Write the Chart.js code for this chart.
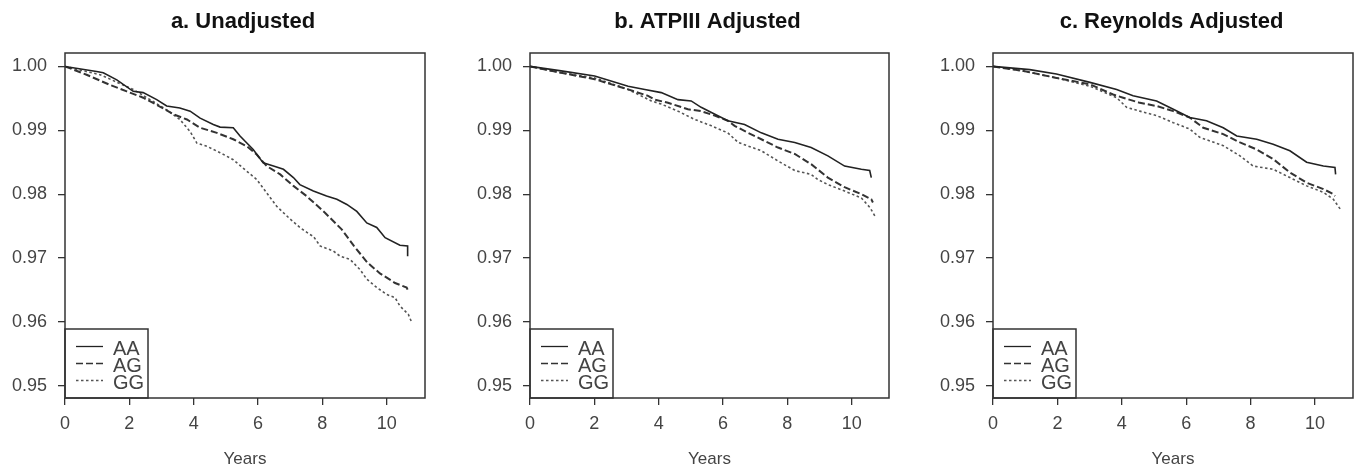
<!DOCTYPE html>
<html>
<head>
<meta charset="utf-8">
<script src="https://cdn.jsdelivr.net/npm/chart.js@4"></script>
<style>
  html, body { margin: 0; padding: 0; background: #fff; overflow: hidden; width: 1362px; height: 472px; }
  canvas { position: absolute; top: 0; }
</style>
</head>
<body>
<canvas id="panelA" width="486" height="472" style="left:0px"></canvas>
<canvas id="panelB" width="475" height="472" style="left:470px"></canvas>
<canvas id="panelC" width="473" height="472" style="left:935px"></canvas>
<script>
// survival curves, [years, survival]
const seriesNames = ['AA', 'AG', 'GG'];
const xTicks = [0, 2, 4, 6, 8, 10];
const yTicks = [0.95, 0.96, 0.97, 0.98, 0.99, 1.00];

const unadjAA = [[0,1.0],[0.98,0.9992],[1.19,0.9990],[1.61,0.9979],[2.12,0.9961],[2.43,0.9959],[2.85,0.9948],[3.16,0.9938],[3.57,0.9935],[3.89,0.9930],[4.20,0.9919],[4.61,0.9909],[4.82,0.9905],[5.23,0.9904],[5.44,0.9891],[5.85,0.9870],[6.16,0.9849],[6.48,0.9844],[6.79,0.9839],[7.10,0.9826],[7.30,0.9815],[7.72,0.9805],[8.13,0.9797],[8.45,0.9792],[8.76,0.9784],[9.07,0.9773],[9.38,0.9755],[9.69,0.9748],[9.95,0.9732],[10.41,0.9720],[10.65,0.9719],[10.65,0.9703]];
const unadjAG = [[0,1.0],[0.67,0.9987],[1.40,0.9971],[1.92,0.9961],[2.43,0.9951],[2.85,0.9940],[3.37,0.9925],[3.79,0.9917],[4.20,0.9904],[4.72,0.9896],[5.23,0.9886],[5.65,0.9875],[5.96,0.9862],[6.27,0.9844],[6.69,0.9831],[7.10,0.9813],[7.51,0.9797],[8.08,0.9771],[8.60,0.9745],[8.98,0.9719],[9.40,0.9693],[9.79,0.9676],[10.26,0.9661],[10.62,0.9654],[10.66,0.9649]];
const unadjGG = [[0,1.0],[1.09,0.9987],[2.12,0.9964],[2.74,0.9945],[3.16,0.9932],[3.57,0.9917],[3.89,0.9898],[4.10,0.9880],[4.41,0.9875],[4.82,0.9865],[5.23,0.9854],[5.65,0.9836],[5.96,0.9823],[6.27,0.9802],[6.58,0.9781],[7.00,0.9761],[7.30,0.9748],[7.61,0.9737],[7.72,0.9734],[7.93,0.9719],[8.34,0.9711],[8.55,0.9703],[8.86,0.9698],[9.17,0.9682],[9.38,0.9667],[9.69,0.9654],[10.0,0.9643],[10.26,0.9638],[10.41,0.9625],[10.67,0.9612],[10.78,0.9599]];

const atpAA = [[0,1.0],[0.97,0.9993],[2.01,0.9985],[3.05,0.9969],[3.57,0.9964],[4.08,0.9959],[4.60,0.9948],[5.01,0.9946],[5.32,0.9936],[5.64,0.9928],[6.15,0.9915],[6.67,0.9909],[7.19,0.9896],[7.71,0.9886],[8.23,0.9881],[8.74,0.9873],[9.26,0.9860],[9.78,0.9844],[10.30,0.9839],[10.56,0.9837],[10.61,0.9826]];
const atpAG = [[0,1.0],[0.97,0.9990],[2.01,0.9980],[3.05,0.9964],[3.67,0.9954],[3.88,0.9948],[4.29,0.9943],[4.91,0.9933],[5.32,0.9930],[5.74,0.9923],[6.15,0.9915],[6.36,0.9907],[6.78,0.9896],[7.19,0.9886],[7.71,0.9873],[8.23,0.9863],[8.74,0.9847],[9.26,0.9826],[9.78,0.9811],[10.30,0.9800],[10.61,0.9792],[10.66,0.9787]];
const atpGG = [[0,1.0],[0.97,0.9990],[2.01,0.9982],[3.05,0.9964],[3.77,0.9946],[4.08,0.9941],[4.60,0.9930],[5.12,0.9917],[5.64,0.9907],[6.15,0.9896],[6.47,0.9881],[7.19,0.9868],[7.71,0.9852],[8.23,0.9837],[8.74,0.9831],[8.95,0.9823],[9.26,0.9815],[9.78,0.9805],[10.30,0.9794],[10.57,0.9779],[10.72,0.9766]];

const reyAA = [[0,1.0],[1.14,0.9995],[1.97,0.9988],[3.01,0.9975],[3.84,0.9964],[4.35,0.9954],[5.08,0.9946],[5.60,0.9933],[6.11,0.9920],[6.63,0.9915],[7.15,0.9904],[7.57,0.9891],[8.19,0.9886],[8.70,0.9878],[9.22,0.9868],[9.74,0.9850],[10.26,0.9844],[10.62,0.9842],[10.64,0.9831]];
const reyAG = [[0,1.0],[0.93,0.9993],[1.97,0.9982],[3.01,0.9972],[3.73,0.9956],[4.04,0.9951],[4.56,0.9943],[5.08,0.9938],[5.60,0.9930],[6.11,0.9920],[6.53,0.9904],[7.15,0.9894],[7.67,0.9881],[8.19,0.9870],[8.70,0.9855],[9.22,0.9834],[9.74,0.9818],[10.26,0.9808],[10.57,0.9800],[10.62,0.9797]];
const reyGG = [[0,1.0],[0.93,0.9993],[1.97,0.9982],[3.01,0.9969],[3.84,0.9951],[4.15,0.9936],[4.56,0.9930],[5.08,0.9923],[5.60,0.9912],[6.11,0.9902],[6.42,0.9889],[7.15,0.9876],[7.67,0.9860],[8.08,0.9844],[8.70,0.9839],[9.22,0.9826],[9.74,0.9813],[10.26,0.9803],[10.57,0.9792],[10.78,0.9777]];

const frameColor = '#333';
const textColor = '#444';
const lineColors = ['#222', '#333', '#555'];
const lineWidths = [1.6, 2, 1.6];
const lineDashes = [[], [7, 3], [2.5, 2.5]];

Chart.defaults.font.family = '"Liberation Sans", Arial, sans-serif';

// box round the plot region, like R's box()
const frameBox = {
  id: 'frameBox',
  afterDraw(chart) {
    const {ctx, chartArea: a} = chart;
    ctx.save();
    ctx.strokeStyle = frameColor;
    ctx.lineWidth = 1.5;
    ctx.strokeRect(a.left, a.top, a.right - a.left, a.bottom - a.top);
    ctx.restore();
  }
};

// legend sits in the bottom left corner of the plot
const legendBox = {
  id: 'legendBox',
  afterDatasetsDraw(chart) {
    const {ctx, chartArea: {left, bottom}} = chart;
    const rows = [49, 32, 15];
    ctx.save();
    ctx.fillStyle = '#fff';
    ctx.fillRect(left, bottom - 69, 83, 69);
    ctx.strokeStyle = frameColor;
    ctx.lineWidth = 1.5;
    ctx.strokeRect(left, bottom - 69, 83, 69);
    chart.data.datasets.forEach((ds, i) => {
      const y = bottom - rows[i];
      ctx.beginPath();
      ctx.setLineDash(ds.borderDash);
      ctx.lineWidth = 1.3;
      ctx.strokeStyle = ds.borderColor;
      ctx.moveTo(left + 11, y - 2.5);
      ctx.lineTo(left + 38, y - 2.5);
      ctx.stroke();
      ctx.setLineDash([]);
      ctx.fillStyle = textColor;
      ctx.font = '20px "Liberation Sans", Arial, sans-serif';
      ctx.textBaseline = 'middle';
      ctx.fillText(ds.label, left + 48, y);
    });
    ctx.restore();
  }
};

function makeChart(id, title, series, yAxisWidth, rightPad, xMax) {
  new Chart(document.getElementById(id), {
    type: 'line',
    data: {
      datasets: series.map((s, i) => ({
        label: seriesNames[i],
        data: s.map(p => ({x: p[0], y: p[1]})),
        borderColor: lineColors[i],
        borderWidth: lineWidths[i],
        borderDash: lineDashes[i],
        pointRadius: 0,
        tension: 0,
        fill: false
      }))
    },
    options: {
      responsive: false,
      animation: false,
      plugins: {
        legend: { display: false },
        tooltip: { enabled: false },
        title: {
          display: true,
          text: title,
          color: '#111',
          font: { size: 22, weight: 'bold' },
          padding: { top: 9, bottom: 17.6 }
        }
      },
      scales: {
        x: {
          type: 'linear',
          min: 0,
          max: xMax,
          afterBuildTicks: s => { s.ticks = xTicks.map(v => ({value: v})); },
          afterFit: s => { s.height = 74; },
          grid: { drawOnChartArea: false, drawTicks: true, tickLength: 7, color: frameColor, lineWidth: 1.3 },
          border: { display: false },
          ticks: { color: textColor, font: { size: 18 }, padding: 8, maxRotation: 0, callback: v => String(v) },
          title: { display: true, text: 'Years', color: textColor, font: { size: 17 }, padding: { top: 0, bottom: 2 } }
        },
        y: {
          min: 0.9481,
          max: 1.0021,
          afterBuildTicks: s => { s.ticks = yTicks.map(v => ({value: v})); },
          afterFit: s => { s.width = yAxisWidth; },
          grid: { drawOnChartArea: false, drawTicks: true, tickLength: 7, color: frameColor, lineWidth: 1.3 },
          border: { display: false },
          ticks: { color: textColor, font: { size: 18 }, padding: 11, callback: v => v.toFixed(2) }
        },
        // empty right axis, only keeps a margin so the title stays centred on the canvas
        yPad: {
          type: 'linear',
          position: 'right',
          grid: { display: false },
          border: { display: false },
          ticks: { display: false },
          afterFit: s => { s.width = rightPad; }
        }
      }
    },
    plugins: [frameBox, legendBox]
  });
}

makeChart('panelA', 'a. Unadjusted', [unadjAA, unadjAG, unadjGG], 65, 61, 11.19);
makeChart('panelB', 'b. ATPIII Adjusted', [atpAA, atpAG, atpGG], 60, 56, 11.16);
makeChart('panelC', 'c. Reynolds Adjusted', [reyAA, reyAG, reyGG], 58, 55, 11.18);
</script>
</body>
</html>
